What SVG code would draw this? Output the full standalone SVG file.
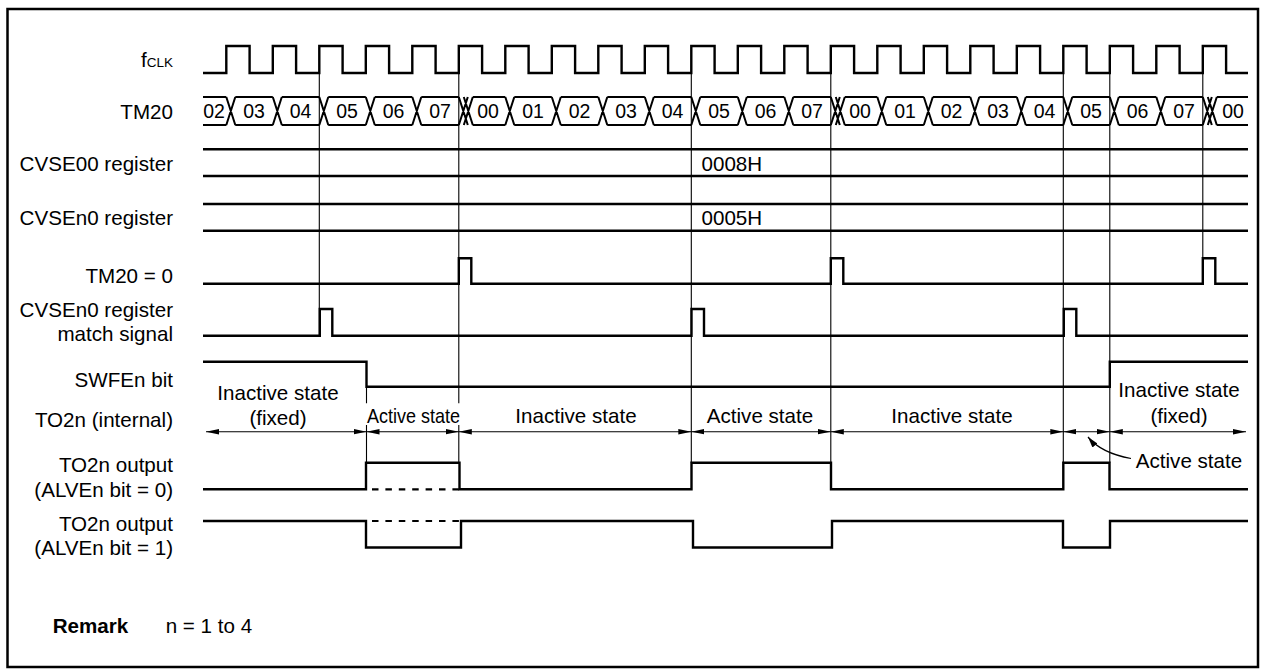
<svg xmlns="http://www.w3.org/2000/svg" width="1265" height="669" viewBox="0 0 1265 669">
<style>
  text { font-family: "Liberation Sans", Arial, Helvetica, sans-serif; font-size: 20.6px; fill: #000; }
  .lbl { text-anchor: end; }
  .mid { text-anchor: middle; }
  .bus text { font-size: 19.5px; text-anchor: middle; }
  .sig { fill: none; stroke: #000; stroke-width: 2.4; stroke-linejoin: miter; }
  .busl { fill: none; stroke: #000; stroke-width: 2; }
  .thin { fill: none; stroke: #000; stroke-width: 1.1; }
  .arr { fill: none; stroke: #000; stroke-width: 1.1; marker-start: url(#ah); marker-end: url(#ah); }
  .dash { fill: none; stroke: #000; stroke-width: 2.2; stroke-dasharray: 6.5 6.9; }
</style>
<defs>
  <marker id="ah" markerUnits="userSpaceOnUse" markerWidth="14" markerHeight="7" refX="13" refY="3" orient="auto-start-reverse" viewBox="0 0 14 6">
    <path d="M0,0.3 L13,3 L0,5.7 z" fill="#000"/>
  </marker>
  <marker id="ah1" markerUnits="userSpaceOnUse" markerWidth="12" markerHeight="8" refX="11" refY="4" orient="auto" viewBox="0 0 12 8">
    <path d="M0,0.8 L11,4 L0,7.2 z" fill="#000"/>
  </marker>
</defs>
<rect x="0" y="0" width="1265" height="669" fill="#fff"/>
<rect id="frame" x="7.5" y="9" width="1250.5" height="658" fill="none" stroke="#000" stroke-width="2.5"/>

<g id="connectors">
  <path class="thin" d="M319.3,73 V335.7"/>
  <path class="thin" d="M458.8,73 V403.3 M458.8,425 V462.7"/>
  <path class="thin" d="M366.5,386.7 V403.3 M366.5,425 V462.7"/>
  <path class="thin" d="M691.3,73 V462.7"/>
  <path class="thin" d="M830.8,73 V462.7"/>
  <path class="thin" d="M1063.3,73 V462.7"/>
  <path class="thin" d="M1109.8,73 V462.7"/>
  <path class="thin" d="M1202.8,73 V283.7"/>
  <line class="arr" x1="206" y1="431.7" x2="366.5" y2="431.7"/>
  <line class="arr" x1="366.5" y1="431.7" x2="458.8" y2="431.7"/>
  <line class="arr" x1="458.8" y1="431.7" x2="691.3" y2="431.7"/>
  <line class="arr" x1="691.3" y1="431.7" x2="830.8" y2="431.7"/>
  <line class="arr" x1="830.8" y1="431.7" x2="1063.3" y2="431.7"/>
  <line class="arr" x1="1063.3" y1="431.7" x2="1109.8" y2="431.7"/>
  <line class="arr" x1="1109.8" y1="431.7" x2="1246" y2="431.7"/>
  <path d="M1131,458.5 Q1101,453 1088,437" fill="none" stroke="#000" stroke-width="1.2" marker-end="url(#ah1)"/>
</g>

<g id="fclk">
  <text class="lbl" x="173" y="67">f<tspan font-size="13.5">CLK</tspan></text>
  <path class="sig" d="M203,73 H226.3 V46 H249.6 V73 H272.8 V46 H296.1 V73 H319.3 V46 H342.6 V73 H365.8 V46 H389.1 V73 H412.3 V46 H435.6 V73 H458.8 V46 H482.1 V73 H505.3 V46 H528.6 V73 H551.8 V46 H575.1 V73 H598.3 V46 H621.6 V73 H644.8 V46 H668.1 V73 H691.3 V46 H714.6 V73 H737.8 V46 H761.1 V73 H784.3 V46 H807.6 V73 H830.8 V46 H854.1 V73 H877.3 V46 H900.6 V73 H923.8 V46 H947.1 V73 H970.3 V46 H993.6 V73 H1016.8 V46 H1040.1 V73 H1063.3 V46 H1086.6 V73 H1109.8 V46 H1133.1 V73 H1156.3 V46 H1179.6 V73 H1202.8 V46 H1226.1 V73 H1248"/>
</g>

<g id="tm20" class="bus">
  <text class="lbl" x="173" y="118.5" style="font-size:20.6px;text-anchor:end">TM20</text>
  <path class="busl" d="M203,97 H226.3 M235.3,97 H272.8 M281.8,97 H319.3 M328.3,97 H365.8 M374.8,97 H412.3 M421.3,97 H458.8 M472.8,97 H505.3 M514.3,97 H551.8 M560.8,97 H598.3 M607.3,97 H644.8 M653.8,97 H691.3 M700.3,97 H737.8 M746.8,97 H784.3 M793.3,97 H830.8 M844.8,97 H877.3 M886.3,97 H923.8 M932.8,97 H970.3 M979.3,97 H1016.8 M1025.8,97 H1063.3 M1072.3,97 H1109.8 M1118.8,97 H1156.3 M1165.3,97 H1202.8 M1216.8,97 H1248
  M203,125 H226.3 M235.3,125 H272.8 M281.8,125 H319.3 M328.3,125 H365.8 M374.8,125 H412.3 M421.3,125 H458.8 M472.8,125 H505.3 M514.3,125 H551.8 M560.8,125 H598.3 M607.3,125 H644.8 M653.8,125 H691.3 M700.3,125 H737.8 M746.8,125 H784.3 M793.3,125 H830.8 M844.8,125 H877.3 M886.3,125 H923.8 M932.8,125 H970.3 M979.3,125 H1016.8 M1025.8,125 H1063.3 M1072.3,125 H1109.8 M1118.8,125 H1156.3 M1165.3,125 H1202.8 M1216.8,125 H1248
  M226.3,97 L235.3,125 M226.3,125 L235.3,97
  M272.8,97 L281.8,125 M272.8,125 L281.8,97
  M319.3,97 L328.3,125 M319.3,125 L328.3,97
  M365.8,97 L374.8,125 M365.8,125 L374.8,97
  M412.3,97 L421.3,125 M412.3,125 L421.3,97
  M458.8,97 L467.8,125 M458.8,125 L467.8,97 M463.8,97 L472.8,125 M463.8,125 L472.8,97
  M505.3,97 L514.3,125 M505.3,125 L514.3,97
  M551.8,97 L560.8,125 M551.8,125 L560.8,97
  M598.3,97 L607.3,125 M598.3,125 L607.3,97
  M644.8,97 L653.8,125 M644.8,125 L653.8,97
  M691.3,97 L700.3,125 M691.3,125 L700.3,97
  M737.8,97 L746.8,125 M737.8,125 L746.8,97
  M784.3,97 L793.3,125 M784.3,125 L793.3,97
  M830.8,97 L839.8,125 M830.8,125 L839.8,97 M835.8,97 L844.8,125 M835.8,125 L844.8,97
  M877.3,97 L886.3,125 M877.3,125 L886.3,97
  M923.8,97 L932.8,125 M923.8,125 L932.8,97
  M970.3,97 L979.3,125 M970.3,125 L979.3,97
  M1016.8,97 L1025.8,125 M1016.8,125 L1025.8,97
  M1063.3,97 L1072.3,125 M1063.3,125 L1072.3,97
  M1109.8,97 L1118.8,125 M1109.8,125 L1118.8,97
  M1156.3,97 L1165.3,125 M1156.3,125 L1165.3,97
  M1202.8,97 L1211.8,125 M1202.8,125 L1211.8,97 M1207.8,97 L1216.8,125 M1207.8,125 L1216.8,97"/>
  <text x="214" y="118">02</text>
  <text x="254" y="118">03</text>
  <text x="300.5" y="118">04</text>
  <text x="347" y="118">05</text>
  <text x="393.5" y="118">06</text>
  <text x="440" y="118">07</text>
  <text x="488" y="118">00</text>
  <text x="533" y="118">01</text>
  <text x="579.5" y="118">02</text>
  <text x="626" y="118">03</text>
  <text x="672.5" y="118">04</text>
  <text x="719" y="118">05</text>
  <text x="765.5" y="118">06</text>
  <text x="812" y="118">07</text>
  <text x="860" y="118">00</text>
  <text x="905" y="118">01</text>
  <text x="951.5" y="118">02</text>
  <text x="998" y="118">03</text>
  <text x="1044.5" y="118">04</text>
  <text x="1091" y="118">05</text>
  <text x="1137.5" y="118">06</text>
  <text x="1184" y="118">07</text>
  <text x="1233" y="118">00</text>
</g>

<g id="cvse00">
  <text class="lbl" x="173" y="170.5">CVSE00 register</text>
  <path class="sig" d="M203,149.3 H1248 M203,176 H1248"/>
  <text x="701.5" y="170.5">0008H</text>
</g>

<g id="cvsen0">
  <text class="lbl" x="173" y="225">CVSEn0 register</text>
  <path class="sig" d="M203,204 H1248 M203,230.7 H1248"/>
  <text x="701.5" y="225">0005H</text>
</g>

<g id="tm20zero">
  <text class="lbl" x="173" y="282.5">TM20 = 0</text>
  <path class="sig" d="M203,283.7 H458.8 V258.3 H471.3 V283.7 H830.8 V258.3 H843.3 V283.7 H1202.8 V258.3 H1215.3 V283.7 H1248"/>
</g>

<g id="match">
  <text class="lbl" x="173" y="317">CVSEn0 register</text>
  <text class="lbl" x="173" y="341">match signal</text>
  <path class="sig" d="M203,335.7 H319.8 V309 H332.3 V335.7 H691.5 V309 H704 V335.7 H1063.8 V309 H1076.3 V335.7 H1248"/>
</g>

<g id="swfen">
  <text class="lbl" x="173" y="386.7">SWFEn bit</text>
  <path class="sig" d="M203,361.7 H366.5 V386.7 H1109.8 V361.7 H1248"/>
</g>

<g id="to2n-internal">
  <text class="lbl" x="173" y="427">TO2n (internal)</text>
  <text class="mid" x="278" y="400">Inactive state</text>
  <text class="mid" x="278" y="425">(fixed)</text>
  <text x="367" y="423.3" textLength="93" lengthAdjust="spacingAndGlyphs">Active state</text>
  <text class="mid" x="576" y="423.3">Inactive state</text>
  <text class="mid" x="760" y="423.3">Active state</text>
  <text class="mid" x="952" y="423.3">Inactive state</text>
  <text class="mid" x="1179" y="397.3">Inactive state</text>
  <text class="mid" x="1179" y="423.3">(fixed)</text>
  <text class="mid" x="1189" y="468.3">Active state</text>
</g>

<g id="to2n-alv0">
  <text class="lbl" x="173" y="471.7">TO2n output</text>
  <text class="lbl" x="173" y="497">(ALVEn bit = 0)</text>
  <path class="sig" d="M203,489.3 H366 V462.7 H459.5 V489.3 H691.5 V462.7 H831 V489.3 H1063.3 V462.7 H1109.5 V489.3 H1248"/>
  <path class="dash" d="M372,489.3 H459.5"/>
</g>

<g id="to2n-alv1">
  <text class="lbl" x="173" y="530.7">TO2n output</text>
  <text class="lbl" x="173" y="555">(ALVEn bit = 1)</text>
  <path class="sig" d="M203,521 H366 V547.5 H461 V521 H693 V547.5 H832 V521 H1063 V547.5 H1110 V521 H1248"/>
  <path class="dash" d="M372,521 H461"/>
</g>

<g id="remark">
  <text x="52.7" y="632.7" font-weight="bold">Remark</text>
  <text x="165.7" y="632.7">n = 1 to 4</text>
</g>
</svg>
